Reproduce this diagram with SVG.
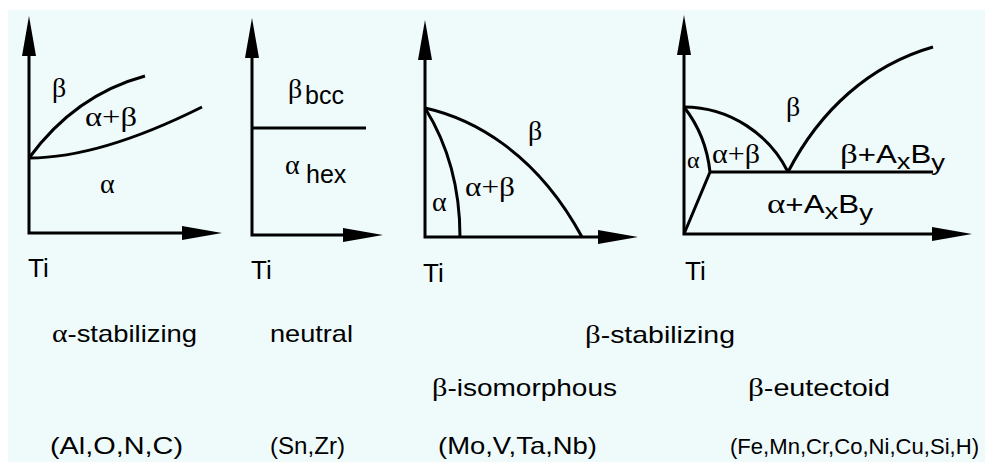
<svg xmlns="http://www.w3.org/2000/svg" width="985" height="462" viewBox="0 0 985 462">
<style>
.ax{fill:none;stroke:#000;stroke-width:3;marker-start:url(#ah);marker-end:url(#ah)}
.ln{fill:none;stroke:#000;stroke-width:3}
.g{font-family:"Liberation Serif","DejaVu Serif",serif;font-size:28px;fill:#000}
.s{font-family:"Liberation Sans",Arial,sans-serif;font-size:24px;fill:#000}
.ti{font-family:"Liberation Sans",Arial,sans-serif;font-size:26px;fill:#000}
.p{font-family:"Liberation Sans",Arial,sans-serif;font-size:25px}
.sub{font-family:"Liberation Sans",Arial,sans-serif;font-size:22px}
</style>
<defs>
<marker id="ah" viewBox="0 0 40 14" refX="10" refY="7" markerWidth="40" markerHeight="14" markerUnits="userSpaceOnUse" orient="auto-start-reverse">
<path d="M0,0 L40,7 L0,14 z" fill="#000"/>
</marker>
</defs>
<rect x="0" y="0" width="985" height="462" fill="#fff"/>
<rect x="8" y="10" width="977" height="452" fill="#effafa"/>

<g id="panel-alpha">
<path class="ax" d="M29,46 L29,233 L192,233"/>
<path class="ln" d="M29,158 Q75,95 145,76"/>
<path class="ln" d="M29,158 Q100,158 202,107"/>
<text class="g" x="52" y="97">β</text>
<text class="g" x="85" y="126" textLength="52" lengthAdjust="spacingAndGlyphs">α+β</text>
<text class="g" x="100" y="193">α</text>
<text class="ti" x="28" y="277">Ti</text>
</g>

<g id="panel-neutral">
<path class="ax" d="M252,48 L252,235 L353,235"/>
<path class="ln" d="M252,128 L366,128"/>
<text class="g" x="288" y="98">β<tspan class="p" x="305" y="104">bcc</tspan></text>
<text class="g" x="285" y="174">α<tspan class="p" x="306" y="183">hex</tspan></text>
<text class="ti" x="251" y="279">Ti</text>
</g>

<g id="panel-isomorphous">
<path class="ax" d="M425,50 L425,237 L608,237"/>
<path class="ln" d="M425,108 C445,140 460,180 460,237"/>
<path class="ln" d="M425,108 C470,118 535,150 582,237"/>
<text class="g" x="528" y="140">β</text>
<text class="g" x="465" y="196" textLength="50" lengthAdjust="spacingAndGlyphs">α+β</text>
<text class="g" x="432" y="211">α</text>
<text class="ti" x="423" y="282">Ti</text>
</g>

<g id="panel-eutectoid">
<path class="ax" d="M684,45 L684,234 L942,234"/>
<path class="ln" d="M710,172 L933,172"/>
<path class="ln" d="M684,107 Q706,135 710,172 L684,234"/>
<path class="ln" d="M684,107 C730,107 770,135 788,172"/>
<path class="ln" d="M788,172 C820,110 870,65 933,47"/>
<text class="g" x="786" y="116">β</text>
<text class="g" x="840" y="163" textLength="105" lengthAdjust="spacingAndGlyphs">β<tspan class="p">+A</tspan><tspan class="sub" dy="6">x</tspan><tspan class="p" dy="-6">B</tspan><tspan class="sub" dy="7">y</tspan></text>
<text class="g" x="687" y="168" style="font-size:24px">α</text>
<text class="g" x="712" y="163" textLength="48" lengthAdjust="spacingAndGlyphs">α+β</text>
<text class="g" x="767" y="213" textLength="106" lengthAdjust="spacingAndGlyphs">α<tspan class="p">+A</tspan><tspan class="sub" dy="6">x</tspan><tspan class="p" dy="-6">B</tspan><tspan class="sub" dy="7">y</tspan></text>
<text class="ti" x="685" y="280">Ti</text>
</g>

<g id="captions">
<text class="s" x="52" y="342" textLength="145" lengthAdjust="spacingAndGlyphs"><tspan class="g" style="font-size:26px">α</tspan>-stabilizing</text>
<text class="s" x="270" y="342" textLength="83" lengthAdjust="spacingAndGlyphs">neutral</text>
<text class="s" x="585" y="343" textLength="150" lengthAdjust="spacingAndGlyphs"><tspan class="g" style="font-size:26px">β</tspan>-stabilizing</text>
<text class="s" x="432" y="396" textLength="185" lengthAdjust="spacingAndGlyphs"><tspan class="g" style="font-size:26px">β</tspan>-isomorphous</text>
<text class="s" x="748" y="396" textLength="142" lengthAdjust="spacingAndGlyphs"><tspan class="g" style="font-size:26px">β</tspan>-eutectoid</text>
<text class="s" x="50" y="454" textLength="133" lengthAdjust="spacingAndGlyphs">(Al,O,N,C)</text>
<text class="s" x="270" y="454" textLength="75" lengthAdjust="spacingAndGlyphs">(Sn,Zr)</text>
<text class="s" x="438" y="454" textLength="159" lengthAdjust="spacingAndGlyphs">(Mo,V,Ta,Nb)</text>
<text class="s" x="730" y="454" style="font-size:21.5px" textLength="249" lengthAdjust="spacingAndGlyphs">(Fe,Mn,Cr,Co,Ni,Cu,Si,H)</text>
</g>
</svg>
